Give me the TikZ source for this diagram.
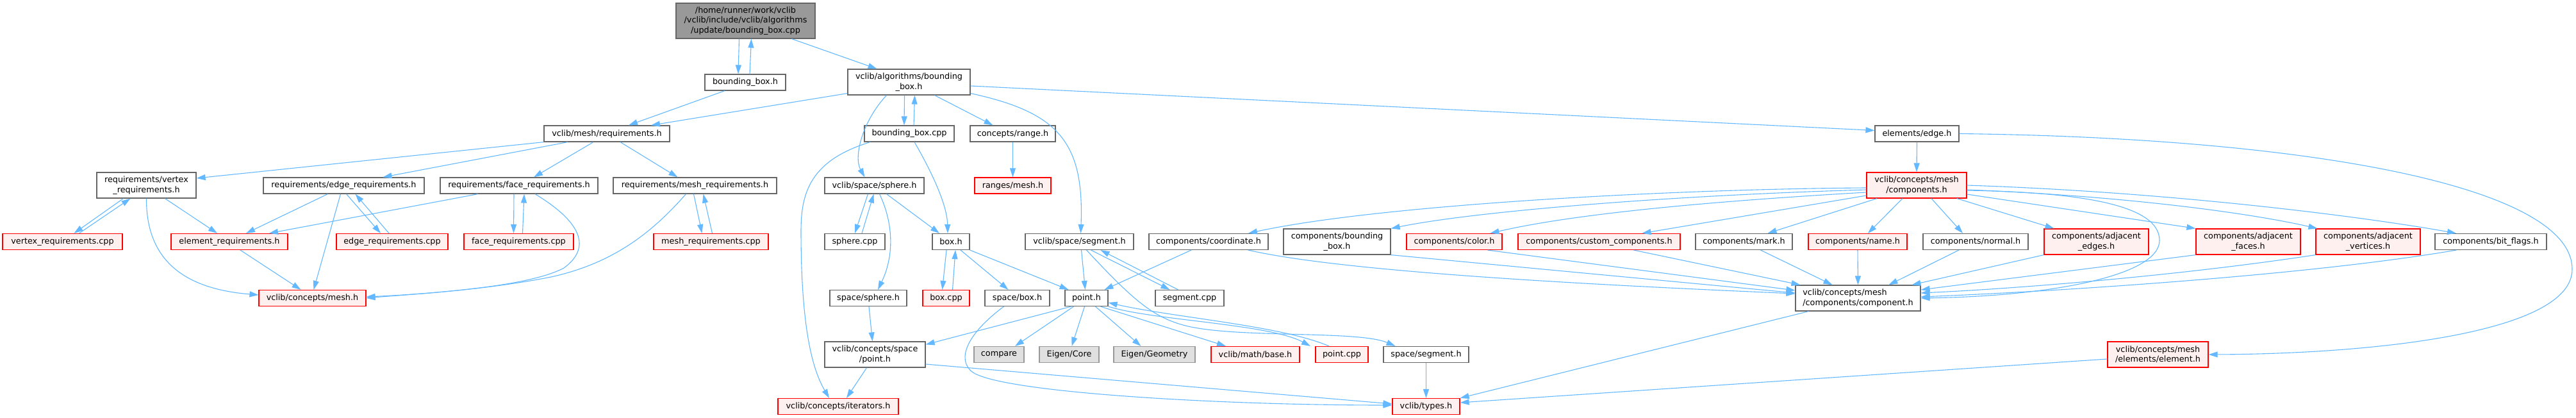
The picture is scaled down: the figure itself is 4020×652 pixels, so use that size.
\documentclass[tikz,border=0pt]{standalone}
\usepackage{fontspec}
\setmainfont{DejaVu Sans}
\usetikzlibrary{arrows.meta}
\definecolor{edgeblue}{HTML}{63B8FF}
\definecolor{nodegray}{HTML}{666666}
\definecolor{sysgray}{HTML}{999999}
\definecolor{trunccol}{HTML}{FF0000}
\definecolor{truncfill}{HTML}{FFF0F0}
\definecolor{sysfill}{HTML}{E0E0E0}
\definecolor{rootfill}{HTML}{999999}

\begin{document}
\begin{tikzpicture}[x=1pt, y=-1pt, >={Triangle[length=14pt,width=9pt]}, font=\fontsize{12.8}{15.3}\selectfont]
        \tikzset{
          file/.style   ={draw=nodegray, fill=white, line width=1.2pt, minimum height=25, inner sep=1pt, align=center},
          redfile/.style={file, draw=trunccol, fill=truncfill},
          sysfile/.style={file, draw=sysgray, fill=sysfill},
          topfile/.style={file, fill=rootfill, minimum height=55},
          two/.style    ={minimum height=40},
          dep/.style    ={->, draw=edgeblue, line width=1.1pt}
        }
        \useasboundingbox (0,0) rectangle (4020,652);
        %% --- top ---
        \node[topfile, minimum width=217] (root) at (1163.5,32.5) {/home/runner/work/vclib\\/vclib/include/vclib/algorithms\\/update/bounding\_box.cpp};
        \node[file, minimum width=126]      (bbh)   at (1163,128.5) {bounding\_box.h};
        \node[file, two, minimum width=191] (algo)  at (1418.5,128) {vclib/algorithms/bounding\\\_box.h};
        \node[file, minimum width=196]      (req)   at (947,208.5)  {vclib/mesh/requirements.h};
        \node[file, minimum width=140]      (bbcpp) at (1419,208.5) {bounding\_box.cpp};
        \node[file, minimum width=133]      (range) at (1580.5,208.5) {concepts/range.h};
        \node[file, minimum width=131]      (edgeh) at (2991.5,208.5) {elements/edge.h};
        %% --- requirements ---
        \node[file, two, minimum width=155] (vreq)  at (228.5,289)  {requirements/vertex\\\_requirements.h};
        \node[file, minimum width=251]      (ereq)  at (536.5,289.5) {requirements/edge\_requirements.h};
        \node[file, minimum width=246]      (freq)  at (810,289.5)  {requirements/face\_requirements.h};
        \node[file, minimum width=255]      (mreq)  at (1084.5,289.5) {requirements/mesh\_requirements.h};
        \node[file, minimum width=155]      (sph)   at (1364.5,289.5) {vclib/space/sphere.h};
        \node[redfile, minimum width=119]   (rmesh) at (1580.5,289.5) {ranges/mesh.h};
        \node[redfile, two, minimum width=156] (comps) at (2991,289) {vclib/concepts/mesh\\/components.h};
        %% --- row of sources and components ---
        \node[redfile, minimum width=187]   (vcpp)   at (97.5,377)  {vertex\_requirements.cpp};
        \node[redfile, minimum width=182]   (elreq)  at (358,377)   {element\_requirements.h};
        \node[redfile, minimum width=174]   (ecpp)   at (612,377)   {edge\_requirements.cpp};
        \node[redfile, minimum width=171]   (fcpp)   at (809.5,377) {face\_requirements.cpp};
        \node[redfile, minimum width=179]   (mcpp)   at (1109.5,377) {mesh\_requirements.cpp};
        \node[file, minimum width=94]       (sphcpp) at (1334,377)  {sphere.cpp};
        \node[file, minimum width=58]       (boxh)   at (1484,377)  {box.h};
        \node[file, minimum width=169]      (seg)    at (1684.5,377) {vclib/space/segment.h};
        \node[file, minimum width=186]      (coord)  at (1886,377)  {components/coordinate.h};
        \node[file, two, minimum width=167] (cbbox)  at (2086.5,377) {components/bounding\\\_box.h};
        \node[redfile, minimum width=149]   (ccolor) at (2269.5,377) {components/color.h};
        \node[redfile, minimum width=253]   (custom) at (2495.5,377) {components/custom\_components.h};
        \node[file, minimum width=151]      (cmark)  at (2721.5,377) {components/mark.h};
        \node[redfile, minimum width=154]   (cname)  at (2899,377)  {components/name.h};
        \node[file, minimum width=164]      (cnormal) at (3083,377) {components/normal.h};
        \node[redfile, two, minimum width=163] (adje) at (3271.5,377) {components/adjacent\\\_edges.h};
        \node[redfile, two, minimum width=163] (adjf) at (3508.5,377) {components/adjacent\\\_faces.h};
        \node[redfile, two, minimum width=163] (adjv) at (3695.5,377) {components/adjacent\\\_vertices.h};
        \node[file, minimum width=174]      (bits)   at (3887,377)  {components/bit\_flags.h};
        %% --- lower rows ---
        \node[redfile, minimum width=167]   (mesh)   at (487.5,465) {vclib/concepts/mesh.h};
        \node[file, minimum width=120]      (ssph)   at (1355,465)  {space/sphere.h};
        \node[redfile, minimum width=73]    (boxcpp) at (1476.5,465) {box.cpp};
        \node[file, minimum width=101]      (sbox)   at (1587.5,465) {space/box.h};
        \node[file, minimum width=67]       (pointh) at (1695.5,465) {point.h};
        \node[file, minimum width=107]      (segcpp) at (1856.5,465) {segment.cpp};
        \node[file, two, minimum width=195, align=left] (comp) at (2899.5,465) {vclib/concepts/mesh\\/components/component.h};
        \node[file, two, minimum width=157] (cpoint) at (1365.5,553) {vclib/concepts/space\\/point.h};
        \node[sysfile, minimum width=78]    (cmp)    at (1559,553)  {compare};
        \node[sysfile, minimum width=93]    (ecore)  at (1668.5,553) {Eigen/Core};
        \node[sysfile, minimum width=127]   (egeo)   at (1801.5,553) {Eigen/Geometry};
        \node[redfile, minimum width=138]   (mbase)  at (1959,553)  {vclib/math/base.h};
        \node[redfile, minimum width=82]    (pcpp)   at (2094,553)  {point.cpp};
        \node[file, minimum width=133]      (sseg)   at (2225.5,553) {space/segment.h};
        \node[redfile, two, minimum width=157] (elem) at (3367.5,553) {vclib/concepts/mesh\\/elements/element.h};
        \node[redfile, minimum width=188]   (iter)   at (1308,634)  {vclib/concepts/iterators.h};
        \node[redfile, minimum width=105]   (types)  at (2225.5,634) {vclib/types.h};
        %% --- root and algorithms ---
        \draw[dep] ([xshift=-10]root.south) -- ([xshift=-11]bbh.north);
        \draw[dep] ([xshift=7]bbh.north) -- ([xshift=9]root.south);
        \draw[dep] ([xshift=72]root.south) -- ([xshift=-50]algo.north);
        \draw[dep] ([xshift=-32]bbh.south) -- ([xshift=34]req.north);
        \draw[dep] ([yshift=3]algo.south west) -- ([xshift=69]req.north);
        \draw[dep] ([xshift=-7]algo.south) -- ([xshift=-8]bbcpp.north);
        \draw[dep] ([xshift=7]bbcpp.north) -- ([xshift=9]algo.south);
        \draw[dep] ([xshift=-35]algo.south) .. controls (1345,190) and (1332,245) .. ([xshift=-15]sph.north);
        \draw[dep] ([xshift=40]algo.south) -- ([xshift=-31]range.north);
        \draw[dep] ([yshift=-6]algo.east) -- ([yshift=5]edgeh.west);
        \draw[dep] ([yshift=3]algo.south east) .. controls (1650,175) and (1692,220) .. ([xshift=2]seg.north);
        \draw[dep] ([xshift=8]bbcpp.south) .. controls (1455,270) and (1478,320) .. ([xshift=-5]boxh.north);
        \draw[dep] ([xshift=-61]bbcpp.south) .. controls (1265,250) and (1250,300) .. (1250,360) .. controls (1250,520) and (1270,580) .. ([xshift=-14]iter.north);
        \draw[dep] (range.south) -- (rmesh.north);
        %% --- requirements ---
        \draw[dep] (req.south west) -- ([yshift=11]vreq.east);
        \draw[dep] ([xshift=-61]req.south) -- ([xshift=61]ereq.north);
        \draw[dep] ([xshift=-21]req.south) -- ([xshift=23]freq.north);
        \draw[dep] ([xshift=21]req.south) -- ([xshift=-27]mreq.north);
        \draw[dep] ([xshift=-36]vreq.south) -- ([xshift=18]vcpp.north);
        \draw[dep] ([xshift=26]vcpp.north) -- ([xshift=-25]vreq.south);
        \draw[dep] ([xshift=29]vreq.south) -- ([xshift=-19]elreq.north);
        \draw[dep] (vreq.south) .. controls (228,400) and (280,450) .. ([yshift=5]mesh.west);
        \draw[dep] ([xshift=-25]ereq.south) -- ([xshift=26]elreq.north);
        \draw[dep] ([xshift=-5]ereq.south) -- ([xshift=2]mesh.north);
        \draw[dep] ([xshift=4]ereq.south) -- ([xshift=-18]ecpp.north);
        \draw[dep] ([xshift=-5]ecpp.north) -- ([xshift=18]ereq.south);
        \draw[dep] ([xshift=-64]freq.south) -- ([xshift=62]elreq.north);
        \draw[dep] ([xshift=-8]freq.south) -- ([xshift=-8]fcpp.north);
        \draw[dep] ([xshift=6]fcpp.north) -- ([xshift=8]freq.south);
        \draw[dep] ([xshift=25]freq.south) .. controls (905,345) and (925,385) .. (880,418) .. controls (820,450) and (650,458) .. (mesh.east);
        \draw[dep] ([xshift=-14]mreq.south) .. controls (1020,360) and (960,410) .. (860,432) .. controls (760,452) and (640,460) .. ([yshift=2]mesh.east);
        \draw[dep] ([xshift=-2]mreq.south) -- ([xshift=-14]mcpp.north);
        \draw[dep] ([xshift=2]mcpp.north) -- ([xshift=13]mreq.south);
        \draw[dep] ([xshift=17]elreq.south) -- ([xshift=-18]mesh.north);
        %% --- space ---
        \draw[dep] ([xshift=-10]sph.south) -- (sphcpp.north);
        \draw[dep] ([xshift=11]sphcpp.north) -- ([xshift=-1]sph.south);
        \draw[dep] ([xshift=8]sph.south) .. controls (1395,350) and (1395,400) .. ([xshift=15]ssph.north);
        \draw[dep] ([xshift=19]sph.south) -- ([xshift=-18]boxh.north);
        \draw[dep] ([xshift=1]ssph.south) -- ([xshift=-4]cpoint.north);
        \draw[dep] ([xshift=-13]cpoint.south) -- ([xshift=13]iter.north);
        \draw[dep] ([yshift=-15]cpoint.east) -- ([yshift=4]types.west);
        \draw[dep] ([xshift=-7]boxh.south) -- ([xshift=-6]boxcpp.north);
        \draw[dep] ([xshift=10]boxcpp.north) -- ([xshift=7]boxh.south);
        \draw[dep] ([xshift=15]boxh.south) -- ([xshift=-14]sbox.north);
        \draw[dep] (boxh.south east) -- ([xshift=-28]pointh.north);
        \draw[dep] ([xshift=-21]sbox.south) .. controls (1510,520) and (1492,560) .. (1517,580) .. controls (1560,612) and (1900,632) .. ([yshift=2]types.west);
        \draw[dep] ([xshift=3]seg.south) -- ([xshift=-2]pointh.north);
        \draw[dep] ([xshift=18]seg.south) -- ([xshift=-31]segcpp.north);
        \draw[dep] ([xshift=-18]segcpp.north) -- ([xshift=33]seg.south);
        \draw[dep] ([xshift=11]seg.south) .. controls (1770,470) and (1800,495) .. (1850,508) .. controls (1930,528) and (2120,515) .. ([xshift=-48]sseg.north);
        \draw[dep] ([xshift=-27]coord.south) -- ([xshift=28]pointh.north);
        \draw[dep] ([xshift=-24]pointh.south) -- ([yshift=-5]cpoint.north east);
        \draw[dep] ([xshift=-20]pointh.south) -- ([xshift=25]cmp.north);
        \draw[dep] ([xshift=-3]pointh.south) -- ([xshift=4]ecore.north);
        \draw[dep] ([xshift=14]pointh.south) -- ([xshift=-21]egeo.north);
        \draw[dep] ([xshift=22]pointh.south) -- ([xshift=-46]mbase.north);
        \draw[dep] (pointh.south east) .. controls (1800,500) and (1980,505) .. ([xshift=-49]pcpp.north);
        \draw[dep] ([xshift=-20]pcpp.north) .. controls (2000,508) and (1830,495) .. ([yshift=-7]pointh.east);
        \draw[dep] (sseg.south) -- (types.north);
        %% --- components ---
        \draw[dep] (edgeh.south) -- (comps.north);
        \draw[dep] (edgeh.east) .. controls (3600,215) and (4014,290) .. (4014,420) .. controls (4014,520) and (3700,552) .. (elem.east);
        \draw[dep] ([yshift=-4]comps.west) .. controls (2600,295) and (2150,320) .. ([xshift=62]coord.north);
        \draw[dep] ([yshift=-7]comps.west) .. controls (2600,305) and (2300,330) .. (cbbox.north east);
        \draw[dep] ([yshift=-11]comps.west) .. controls (2650,315) and (2450,335) .. ([xshift=56]ccolor.north);
        \draw[dep] ([yshift=-16]comps.west) -- ([xshift=67]custom.north);
        \draw[dep] ([xshift=-62]comps.south) -- ([xshift=37]cmark.north);
        \draw[dep] ([xshift=-22]comps.south) -- ([xshift=16]cname.north);
        \draw[dep] ([xshift=23]comps.south) -- ([xshift=-20]cnormal.north);
        \draw[dep] ([xshift=63]comps.south) -- ([xshift=-66]adje.north);
        \draw[dep] ([yshift=-14]comps.east) -- (adjf.north west);
        \draw[dep] ([yshift=-7]comps.east) .. controls (3300,305) and (3500,330) .. ([xshift=3]adjv.north west);
        \draw[dep] (comps.east) .. controls (3400,300) and (3700,340) .. ([xshift=-54]bits.north);
        \draw[dep] ([yshift=-8]comps.east) .. controls (3250,300) and (3370,320) .. (3370,375) .. controls (3370,430) and (3200,462) .. (comp.east);
        \draw[dep] ([xshift=62]coord.south) .. controls (2100,425) and (2500,445) .. ([yshift=7]comp.west);
        \draw[dep] (cbbox.south east) -- ([yshift=8]comp.west);
        \draw[dep] ([xshift=52]ccolor.south) -- ([yshift=12]comp.west);
        \draw[dep] ([xshift=54]custom.south) -- ([xshift=-90]comp.north);
        \draw[dep] ([xshift=26]cmark.south) -- ([xshift=-40]comp.north);
        \draw[dep] (cname.south) -- (comp.north);
        \draw[dep] ([xshift=-26]cnormal.south) -- ([xshift=48]comp.north);
        \draw[dep] (adje.south west) -- ([xshift=84]comp.north);
        \draw[dep] (adjf.south west) -- ([yshift=13]comp.east);
        \draw[dep] (adjv.south west) .. controls (3400,430) and (3150,450) .. ([yshift=8]comp.east);
        \draw[dep] ([xshift=-54]bits.south) .. controls (3600,430) and (3200,455) .. ([yshift=2]comp.east);
        \draw[dep] ([xshift=-77]comp.south) -- (types.north east);
        \draw[dep] ([yshift=-7]elem.west) -- ([yshift=6]types.east);
    \end{tikzpicture}
\end{document}
